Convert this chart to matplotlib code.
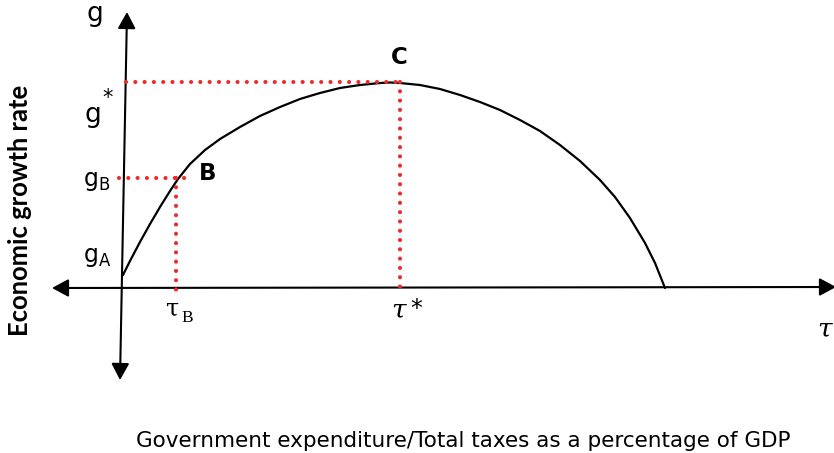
import matplotlib
matplotlib.use("Agg")
import matplotlib.pyplot as plt

# ---- data (tau = tax share, g = growth rate; arbitrary units) ----
tau_curve = [0.18, 1.47, 3.31, 5.16, 7.00, 8.84, 10.31, 12.52, 15.29, 18.05,
             21.73, 25.41, 29.10, 32.78, 36.46, 40.15, 43.83, 47.51, 49.36, 51.20,
             54.88, 58.56, 62.25, 65.93, 69.61, 73.30, 76.98, 80.66, 84.35, 88.03,
             90.79, 93.55, 96.32, 98.16, 100.0]
g_curve = [6.31, 13.11, 22.33, 31.07, 39.32, 47.09, 52.91, 60.19, 66.99, 72.33,
           78.16, 83.50, 87.86, 91.75, 94.66, 97.09, 98.54, 99.51, 99.76, 99.51,
           98.54, 96.60, 93.69, 90.29, 86.41, 81.55, 76.21, 69.42, 61.65, 52.43,
           44.17, 33.98, 21.84, 12.14, 0.0]
tau_B = 10.0
tau_star = 51.2
g_A = 6.3
g_B = 53.4
g_star = 100.0

x_title = "Government expenditure/Total taxes as a percentage of GDP"
y_title = "Economic growth rate"

# ---- layout ----
W, H, DPI = 834, 453, 100
X0, Y0, SX, SY = 122, 288, 5.43, 2.06   # pixel origin and scale of data units

fig = plt.figure(figsize=(W / DPI, H / DPI), dpi=DPI)
ax = fig.add_axes([0, 0, 1, 1])
ax.set_xlim(-X0 / SX, (W - X0) / SX)
ax.set_ylim((Y0 - H) / SY, Y0 / SY)
ax.axis("off")


def P(px, py):
    return ((px - X0) / SX, (Y0 - py) / SY)


arrow = dict(arrowstyle="<|-|>,head_length=0.5,head_width=0.27", mutation_scale=20,
             color="black", lw=1.5, shrinkA=0, shrinkB=0)
# horizontal axis
ax.annotate("", xy=P(52, 288), xytext=P(836, 287), arrowprops=arrow)
# vertical axis (slightly tilted)
ax.annotate("", xy=P(127, 12), xytext=P(120, 380), arrowprops=arrow)

# curve
ax.plot(tau_curve, g_curve, color="black", lw=1.6, solid_capstyle="round",
        solid_joinstyle="round", zorder=3)

red = "#ee2b2b"
dot = dict(color=red, lw=3, linestyle=(0, (0.001, 2.23)), dash_capstyle="round",
           zorder=4)
ax.plot([0.7, tau_star], [g_star, g_star], **dot)
ax.plot([tau_star, tau_star], [g_star, -1], **dot)
ax.plot([-0.5, tau_B + 1.8], [g_B, g_B], **dot)
ax.plot([tau_B, tau_B], [g_B, -1], **dot)

# ---- labels ----
sans = "DejaVu Sans"
ax.text(*P(95, 21), "g", fontsize=19, family=sans, ha="center", va="baseline")
ax.text(*P(93, 122.5), "g", fontsize=19, family=sans, ha="center", va="baseline")
ax.text(*P(108, 104), "*", fontsize=15, family=sans, ha="center", va="baseline")
ax.text(*P(83, 186), r"$\mathregular{g_B}$", fontsize=17, family=sans, ha="left",
        va="baseline")
ax.text(*P(83, 262), r"$\mathregular{g_A}$", fontsize=17, family=sans, ha="left",
        va="baseline")

ax.text(*P(199, 180), "B", fontsize=16.5, family=sans, weight="bold", ha="left",
        va="baseline")
ax.text(*P(399, 64), "C", fontsize=16.5, family=sans, weight="bold", ha="center",
        va="baseline")

serif = "DejaVu Serif"
ax.text(*P(166, 315), "τ", fontsize=17, family=serif, ha="left", va="baseline")
ax.text(*P(181, 322), "B", fontsize=12.5, family="Liberation Serif", ha="left",
        va="baseline")
ax.text(*P(391, 318), "τ", fontsize=19, family=serif, style="italic", ha="left",
        va="baseline")
ax.text(*P(416, 316), "*", fontsize=17, family=sans, ha="center", va="baseline")
ax.text(*P(817, 337), "τ", fontsize=19, family=serif, style="italic", ha="left",
        va="baseline")

xt = ax.text(*P(463.5, 447), x_title, fontsize=14, family=sans, ha="center",
             va="baseline")
yt = ax.text(*P(20, 210), y_title, fontsize=14, family="Lato", weight="bold",
             rotation=90, ha="center", va="center")

# fit the long titles to their measured extents
fig.canvas.draw()
r = fig.canvas.get_renderer()
bb = xt.get_window_extent(r)
xt.set_fontsize(xt.get_fontsize() * 657 / bb.width)
bb = yt.get_window_extent(r)
yt.set_fontsize(yt.get_fontsize() * 254 / bb.height)

fig.savefig("out.png", dpi=DPI)
